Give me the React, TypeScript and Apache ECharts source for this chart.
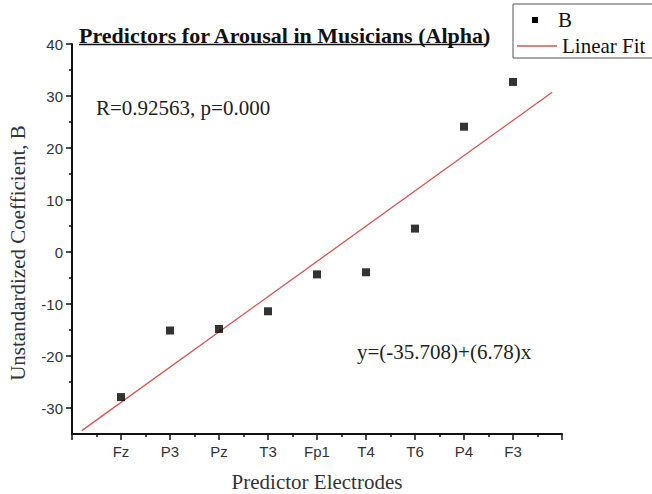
import React, { useEffect, useRef } from "react";
import * as echarts from "echarts";

const categories = ["Fz", "P3", "Pz", "T3", "Fp1", "T4", "T6", "P4", "F3"];
const bValues = [-27.9, -15.1, -14.8, -11.4, -4.3, -3.9, 4.5, 24.1, 32.7];
const yTicks = [-30, -20, -10, 0, 10, 20, 30, 40];
const yMinorTicks = [-25, -15, -5, 5, 15, 25, 35];
const xTicks = [1, 2, 3, 4, 5, 6, 7, 8, 9];
const fitIntercept = -35.708;
const fitSlope = 6.78;
const fitRange = [0.2, 9.8];

const SERIF = "'Liberation Serif', 'Times New Roman', serif";
const SANS = "'Liberation Sans', Arial, sans-serif";

export default function App() {
  const ref = useRef<HTMLDivElement>(null);
  useEffect(() => {
    if (!ref.current) return;
    const chart = echarts.init(ref.current, undefined, { renderer: "svg" });
    const fitData = fitRange.map((x) => [x, fitIntercept + fitSlope * x]);
    const scatterData = bValues.map((v, i) => [i + 1, v]);
    const axisColor = "#111";
    chart.setOption({
      animation: false,
      backgroundColor: "#fff",
      grid: { left: 72, right: 90, top: 44, bottom: 60 },
      xAxis: {
        type: "value",
        min: 0,
        max: 10,
        interval: 1,
        splitLine: { show: false },
        axisLine: { show: true, onZero: false, lineStyle: { color: axisColor, width: 2 } },
        axisTick: { show: true, length: 6, lineStyle: { color: axisColor, width: 1.5 } },
        minorTick: { show: true, splitNumber: 2, length: 3, lineStyle: { color: axisColor, width: 1.5 } },
        axisLabel: {
          customValues: xTicks,
          formatter: (v: number) => categories[Math.round(v) - 1] ?? "",
          color: "#333",
          fontFamily: SANS,
          fontSize: 15,
          margin: 10,
        },
      },
      yAxis: [
        {
          type: "value",
          min: -35,
          max: 40,
          interval: 5,
          position: "left",
          splitLine: { show: false },
          axisLine: { show: true, onZero: false, lineStyle: { color: axisColor, width: 2 } },
          axisTick: { show: true, customValues: yTicks, length: 6, lineStyle: { color: axisColor, width: 1.5 } },
          axisLabel: {
            customValues: yTicks,
            color: "#333",
            fontFamily: SANS,
            fontSize: 15,
            margin: 9,
          },
        },
        {
          type: "value",
          min: -35,
          max: 40,
          interval: 5,
          position: "left",
          offset: 0,
          splitLine: { show: false },
          axisLine: { show: false },
          axisTick: { show: true, customValues: yMinorTicks, length: 3, lineStyle: { color: axisColor, width: 1.5 } },
          axisLabel: { show: false },
        },
      ],
      series: [
        {
          type: "line",
          data: fitData,
          symbol: "none",
          lineStyle: { color: "#d9534f", width: 1.3 },
          z: 2,
        },
        {
          type: "scatter",
          data: scatterData,
          symbol: "rect",
          symbolSize: 8,
          itemStyle: { color: "#000" },
          z: 3,
        },
      ],
      graphic: [
        {
          type: "text",
          x: 79,
          y: 35,
          style: {
            text: "Predictors for Arousal in Musicians (Alpha)",
            font: `bold 22px ${SERIF}`,
            fill: "#111",
            verticalAlign: "middle",
          },
        },
        {
          type: "line",
          shape: { x1: 79, y1: 44.5, x2: 487, y2: 44.5 },
          style: { stroke: "#111", lineWidth: 1.6 },
        },
        {
          type: "rect",
          shape: { x: 513, y: 4, width: 160, height: 54 },
          style: { fill: "#fff", stroke: "#555", lineWidth: 1 },
        },
        {
          type: "rect",
          shape: { x: 532, y: 17, width: 6, height: 6 },
          style: { fill: "#000" },
        },
        {
          type: "text",
          x: 558,
          y: 20,
          style: { text: "B", font: `21px ${SERIF}`, fill: "#111", verticalAlign: "middle" },
        },
        {
          type: "line",
          shape: { x1: 517, y1: 46, x2: 557, y2: 46 },
          style: { stroke: "#d9534f", lineWidth: 1.3 },
        },
        {
          type: "text",
          x: 562,
          y: 46,
          style: { text: "Linear Fit", font: `21px ${SERIF}`, fill: "#111", verticalAlign: "middle" },
        },
        {
          type: "text",
          x: 96,
          y: 108,
          style: { text: "R=0.92563, p=0.000", font: `21px ${SERIF}`, fill: "#222", verticalAlign: "middle" },
        },
        {
          type: "text",
          x: 357,
          y: 352,
          style: { text: "y=(-35.708)+(6.78)x", font: `21px ${SERIF}`, fill: "#222", verticalAlign: "middle" },
        },
        {
          type: "text",
          x: 317,
          y: 482,
          style: { text: "Predictor Electrodes", font: `21px ${SERIF}`, fill: "#333", align: "center", verticalAlign: "middle" },
        },
        {
          type: "text",
          x: 18,
          y: 253,
          rotation: Math.PI / 2,
          style: { text: "Unstandardized Coefficient, B", font: `21px ${SERIF}`, fill: "#333", align: "center", verticalAlign: "middle" },
        },
      ],
    });
    return () => chart.dispose();
  }, []);
  return (
    <div
      ref={ref}
      style={{ position: "fixed", left: 0, top: 0, width: 652, height: 494 }}
    />
  );
}
